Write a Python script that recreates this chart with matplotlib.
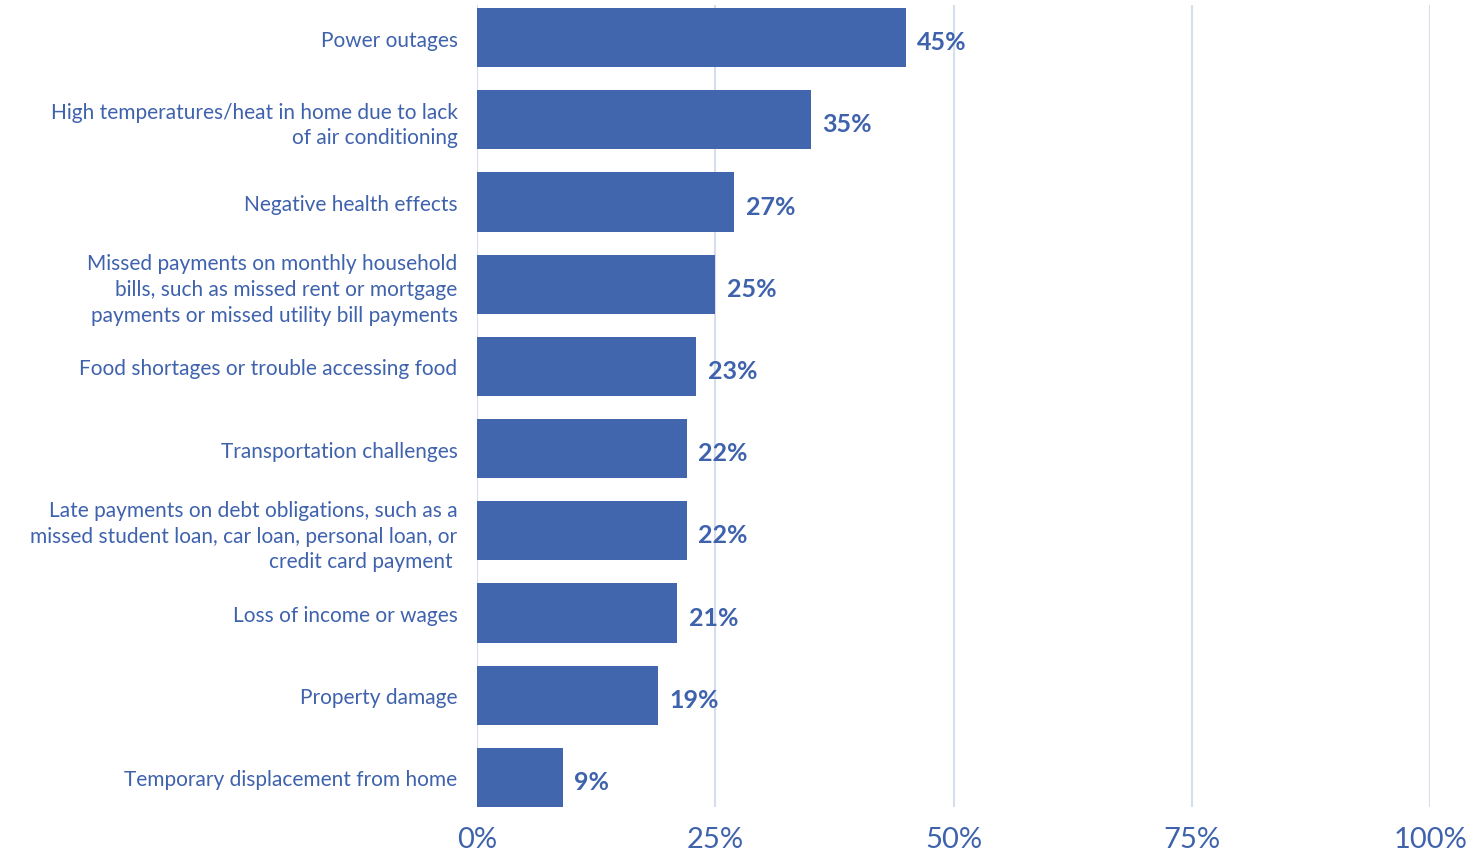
import matplotlib.pyplot as plt
import numpy as np

# Datos
categorias = [
    'Power outages',
    'High temperatures/heat in home due to lack\nof air conditioning',
    'Negative health effects',
    'Missed payments on monthly household\nbills, such as missed rent or mortgage\npayments or missed utility bill payments',
    'Food shortages or trouble accessing food',
    'Transportation challenges',
    'Late payments on debt obligations, such as a\nmissed student loan, car loan, personal loan, or\ncredit card payment ',
    'Loss of income or wages',
    'Property damage',
    'Temporary displacement from home',
]
valores = [45, 35, 27, 25, 23, 22, 22, 21, 19, 9]
ticks_x = [0, 25, 50, 75, 100]
ticks_lbl = ['0%', '25%', '50%', '75%', '100%']

azul = '#4166AE'
texto = '#3F62AD'
grid_c = '#D6DEEE'

plt.rcParams['font.family'] = ['Lato', 'DejaVu Sans']

fig = plt.figure(figsize=(14.74, 8.53), dpi=100)
ax = fig.add_axes([0.3236, 0.0528, 0.9702 - 0.3236, 0.9934 - 0.0528])

y = np.arange(len(valores))
ax.barh(y, valores, height=0.72, color=azul, zorder=3)

# Etiquetas de datos
for yi, v in zip(y, valores):
    ax.text(v + 1.2, yi + 0.05, f'{v}%', va='center', ha='left',
            fontsize=18, fontweight='bold', color=texto, zorder=4)

ax.set_xlim(0, 100)
ax.set_ylim(9.36, -0.4)
ax.set_yticks(y)
ax.set_yticklabels(categorias, fontsize=15, color=texto, linespacing=1.36)
ax.set_xticks(ticks_x)
ax.set_xticklabels(ticks_lbl, fontsize=21, color=texto)
ax.tick_params(axis='y', length=0, pad=14)
ax.tick_params(axis='x', length=0, pad=14)

# Rejilla
ax.grid(axis='x', color=grid_c, linewidth=1.5, zorder=0)
ax.grid(axis='y', visible=False)
for s in ax.spines.values():
    s.set_visible(False)

fig.savefig('out.png', dpi=100, facecolor='white')
